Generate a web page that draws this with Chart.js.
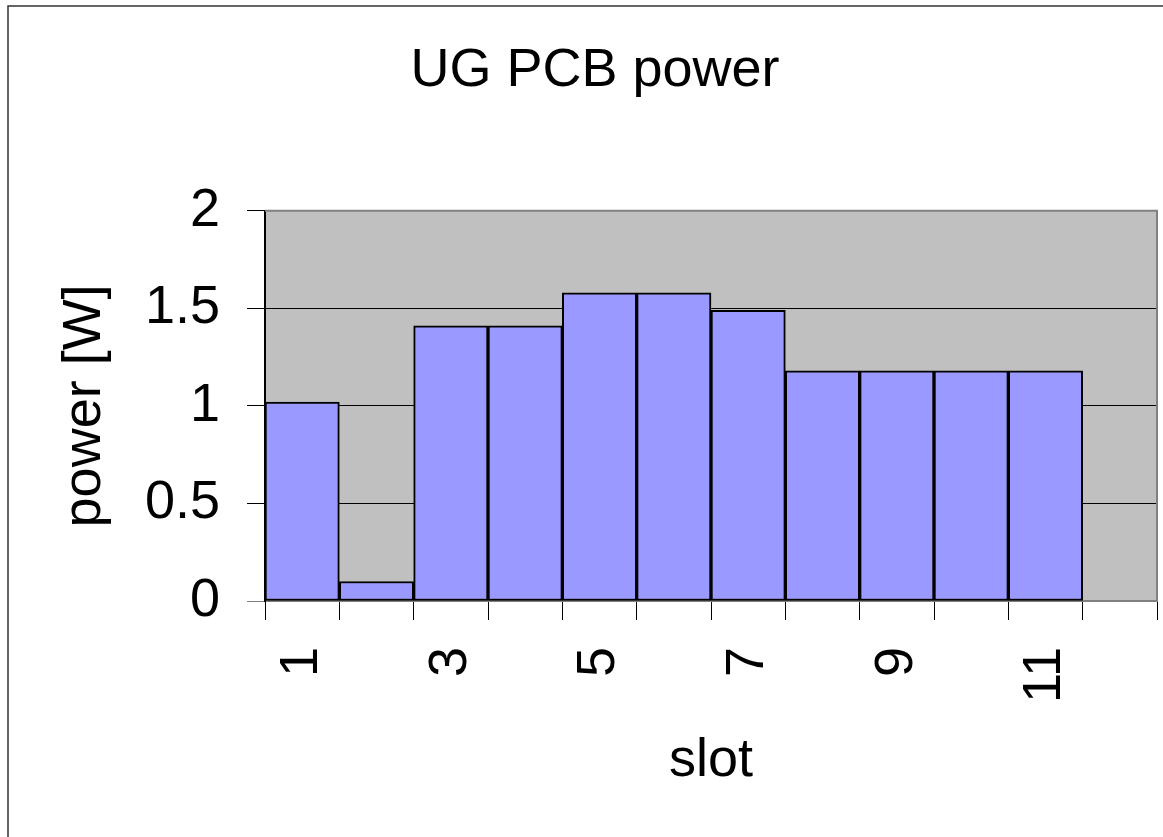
<!DOCTYPE html>
<html>
<head>
<meta charset="utf-8">
<title>UG PCB power</title>
<style>
  body { margin: 0; background: #fff; }
  canvas { display: block; }
</style>
</head>
<body>
<canvas id="myChart" width="1163" height="837"></canvas>
<script src="https://cdn.jsdelivr.net/npm/chart.js@4/dist/chart.umd.min.js"></script>
<script>
// data
var slots = ['1', '2', '3', '4', '5', '6', '7', '8', '9', '10', '11', '12'];
var power = [1.02, 0.10, 1.41, 1.41, 1.58, 1.58, 1.49, 1.18, 1.18, 1.18, 1.18, null];
var yTicks = [0, 0.5, 1, 1.5, 2];

var fontFamily = '"Liberation Sans", Arial, sans-serif';

// grey plot area, grey top/right edge and the outer frame
var plotFrame = {
  id: 'plotFrame',
  beforeDraw: function(chart) {
    var a = chart.chartArea, c = chart.ctx;
    c.save();
    c.fillStyle = '#c0c0c0';
    c.fillRect(a.left, a.top, a.right - a.left, a.bottom - a.top);
    c.restore();
  },
  afterDraw: function(chart) {
    var a = chart.chartArea, c = chart.ctx;
    c.save();
    c.strokeStyle = '#808080';
    c.lineWidth = 2;
    c.beginPath();
    c.moveTo(a.left, a.top);
    c.lineTo(a.right, a.top);
    c.lineTo(a.right, a.bottom);
    c.stroke();
    // outer chart border, runs off the right and bottom
    c.strokeStyle = '#333';
    c.lineWidth = 1.5;
    c.strokeRect(8, 6, 1300, 1000);
    c.restore();
  }
};

var ctx = document.getElementById('myChart').getContext('2d');
var chart = new Chart(ctx, {
  type: 'bar',
  data: {
    labels: slots,
    datasets: [{
      label: 'power',
      data: power,
      backgroundColor: '#9999ff',
      borderColor: '#000',
      borderWidth: 2,
      borderSkipped: false,
      barPercentage: 1,
      categoryPercentage: 1
    }]
  },
  options: {
    responsive: false,
    animation: false,
    layout: { padding: { left: 33, right: 6, top: 0, bottom: 0 } },
    plugins: {
      legend: { display: false },
      tooltip: { enabled: false },
      title: {
        display: true,
        text: 'UG PCB power',
        color: '#000',
        font: { family: fontFamily, size: 54, weight: 'normal' },
        padding: { top: 39, bottom: 107 }
      }
    },
    scales: {
      x: {
        offset: true,
        grid: {
          offset: true,
          drawOnChartArea: false,
          drawTicks: true,
          tickLength: 19,
          tickColor: '#000',
          lineWidth: 1
        },
        border: { display: true, color: '#808080', width: 2 },
        ticks: {
          autoSkip: false,
          minRotation: 90,
          maxRotation: 90,
          padding: 27,
          color: '#000',
          font: { family: fontFamily, size: 54 },
          callback: function(v, i) { return i % 2 === 0 ? slots[i] : ''; }
        },
        title: {
          display: true,
          text: 'slot',
          color: '#000',
          font: { family: fontFamily, size: 54 },
          padding: { top: 0, bottom: 43 }
        },
        afterFit: function(scale) {
          scale.height = 236;
          scale.paddingLeft = 0;
          scale.paddingRight = 0;
        }
      },
      y: {
        min: 0,
        max: 2,
        afterBuildTicks: function(scale) {
          scale.ticks = yTicks.map(function(v) { return { value: v }; });
        },
        grid: {
          color: function(c) { return c.tick && c.tick.value === 0 ? '#808080' : '#000'; },
          lineWidth: 1,
          drawTicks: true,
          tickLength: 18
        },
        border: { display: true, color: '#000', width: 2 },
        ticks: {
          padding: 27,
          color: '#000',
          font: { family: fontFamily, size: 54 },
          callback: function(v) { return String(v); }
        },
        title: {
          display: true,
          text: 'power [W]',
          color: '#000',
          font: { family: fontFamily, size: 54 },
          padding: { top: 20, bottom: 0 }
        },
        afterFit: function(scale) { scale.width = 232; }
      }
    }
  },
  plugins: [plotFrame]
});
</script>
</body>
</html>
